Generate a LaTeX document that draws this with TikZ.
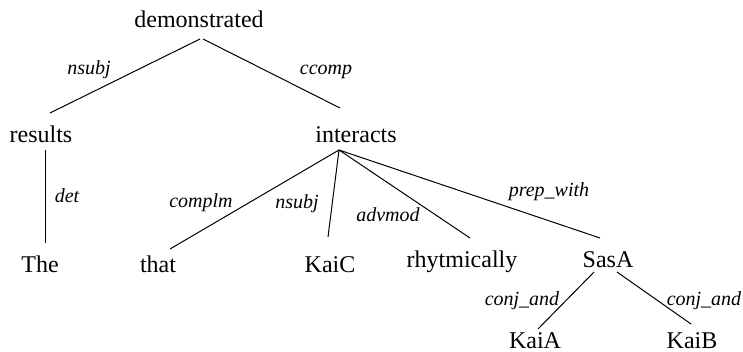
\documentclass[tikz,border=0pt]{standalone}
\usepackage{fontspec}
\setmainfont{Liberation Serif}
\tikzset{
  word/.style ={anchor=base,inner sep=0pt,font=\fontsize{12}{14}\selectfont},
  rel/.style  ={anchor=base,inner sep=0pt,font=\fontsize{10}{12}\selectfont\itshape},
  dep/.style  ={draw=black,line width=0.5pt},
}

\begin{document}
\begin{tikzpicture}[x=0.5pt,y=-0.5pt]
\useasboundingbox (0,0) rectangle (743,352);

%% ---------------- words ----------------
%% positions are given by the baseline of each word
\node[word] (demonstrated) at (199, 28) {demonstrated};
\node[word] (results)      at ( 41,143) {results};
\node[word] (interacts)    at (356,143) {interacts};
\node[word] (The)          at ( 40,272) {The};
\node[word] (that)         at (158,272) {that};
\node[word] (KaiC)         at (330,272) {KaiC};
\node[word] (rhytmically)  at (462,267) {rhytmically};
\node[word] (SasA)         at (608,267) {SasA};
\node[word] (KaiA)         at (535,348) {KaiA};
\node[word] (KaiB)         at (692,348) {KaiB};

%% ---------------- dependencies ----------------
%% head/port-x/port-y/dependent/port-x/port-y
\foreach \u/\ux/\uy/\v/\vx/\vy in {
    demonstrated/1/11/results/9/-30,
    demonstrated/4/11/interacts/-16/-35,
    results/4/7/The/5/-29,
    interacts/-17/7/that/12/-23,
    interacts/-17/7/KaiC/-2/-35,
    interacts/-17/7/rhytmically/8/-29,
    interacts/-17/7/SasA/-8/-29,
    SasA/-14/5/KaiA/3/-19,
    SasA/9/5/KaiB/-1/-24}{
  \draw[dep] ([shift={(\ux,\uy)}]\u.base) -- ([shift={(\vx,\vy)}]\v.base);
}

%% ---------------- relation labels ----------------
\node[rel] (lnsubjA)   at ( 89, 75) {nsubj};
\node[rel] (lccomp)    at (326, 75) {ccomp};
\node[rel] (ldet)      at ( 67,203) {det};
\node[rel] (lcomplm)   at (201,207) {complm};
\node[rel] (lnsubjB)   at (297,208) {nsubj};
\node[rel] (ladvmod)   at (388,221) {advmod};
\node[rel] (lprepwith) at (549,197) {prep\_with};
\node[rel] (lconjA)    at (522,305) {conj\_and};
\node[rel] (lconjB)    at (704,305) {conj\_and};

\end{tikzpicture}
\end{document}
